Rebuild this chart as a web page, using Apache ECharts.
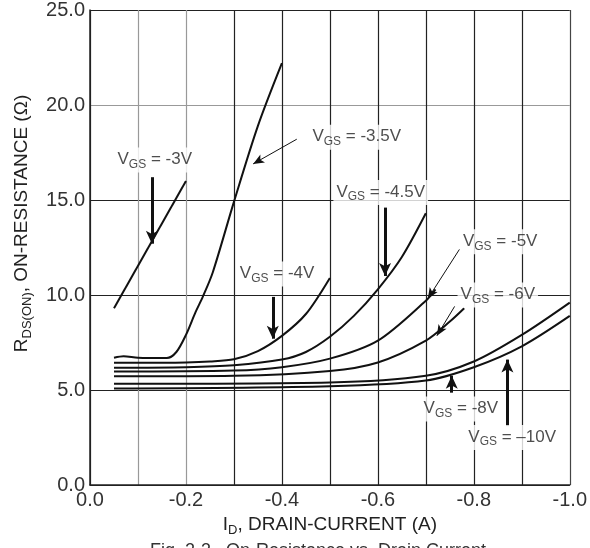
<!DOCTYPE html>
<html>
<head>
<meta charset="utf-8">
<script src="https://cdn.jsdelivr.net/npm/echarts@6/dist/echarts.min.js"></script>
<style>
html, body { margin: 0; padding: 0; background: #fff; }
#chart { width: 590px; height: 548px; }
</style>
</head>
<body>
<div id="chart"></div>
<script>
// drain current (A) and on-resistance (ohm)
var vgs3 = [[-0.05, 9.3], [-0.2, 16.0]];
var vgs35 = [[-0.05, 6.7], [-0.07, 6.78], [-0.1, 6.7], [-0.16, 6.68], [-0.18, 7.0], [-0.2, 7.9],
  [-0.22, 9.1], [-0.235, 9.9], [-0.256, 11.2], [-0.3, 14.9], [-0.35, 18.9], [-0.4, 22.2]];
var vgs4 = [[-0.05, 6.43], [-0.1, 6.43], [-0.2, 6.45], [-0.25, 6.5], [-0.3, 6.62], [-0.35, 7.05],
  [-0.4, 7.85], [-0.45, 9.0], [-0.5, 10.9]];
var vgs45 = [[-0.05, 6.17], [-0.2, 6.2], [-0.3, 6.3], [-0.4, 6.6], [-0.45, 7.0], [-0.5, 7.8],
  [-0.55, 8.9], [-0.6, 10.3], [-0.65, 12.0], [-0.7, 14.3]];
var vgs5 = [[-0.05, 5.97], [-0.3, 6.02], [-0.4, 6.2], [-0.5, 6.65], [-0.6, 7.6], [-0.7, 9.7], [-0.72, 10.3]];
var vgs6 = [[-0.05, 5.72], [-0.3, 5.75], [-0.5, 6.0], [-0.6, 6.45], [-0.7, 7.6], [-0.75, 8.6], [-0.78, 9.3]];
var vgs8 = [[-0.05, 5.33], [-0.5, 5.4], [-0.7, 5.75], [-0.8, 6.5], [-0.9, 7.9], [-1.0, 9.6]];
var vgs10 = [[-0.05, 5.08], [-0.5, 5.2], [-0.7, 5.5], [-0.8, 6.2], [-0.9, 7.3], [-1.0, 8.9]];

var curves = [vgs3, vgs35, vgs4, vgs45, vgs5, vgs6, vgs8, vgs10];

// curve labels: text and where they sit
var labelText = ['-3V', '-3.5V', '-4V', '-4.5V', '-5V', '-6V', '-8V', '\u201310V'];
var labelPos = [[-0.135, 17.1], [-0.556, 18.3], [-0.39, 11.1], [-0.606, 15.4],
  [-0.855, 12.8], [-0.85, 10.0], [-0.773, 4.0], [-0.88, 2.5]];

// arrows: [from, to, thick?]
var arrows = [
  [[-0.129, 16.2], [-0.129, 12.7], true],
  [[-0.431, 18.2], [-0.34, 16.9], false],
  [[-0.381, 9.9], [-0.381, 7.7], true],
  [[-0.615, 14.6], [-0.615, 11.0], true],
  [[-0.77, 12.4], [-0.704, 9.8], false],
  [[-0.76, 9.4], [-0.723, 7.85], false],
  [[-0.754, 4.86], [-0.754, 5.75], true],
  [[-0.87, 3.1], [-0.87, 6.6], true]
];

// split line colours, from -1.0 up to 0.0 and from 0 up to 25
var xColors = ['#444', '#222', '#222', '#222', '#222', '#222', '#222', '#222', '#999', '#999', '#222'];
var yColors = ['#222', '#222', '#222', '#222', '#999', '#222'];

var series = [];
for (var i = 0; i < curves.length; i++) {
  series.push({
    type: 'line',
    data: curves[i],
    smooth: 0.3,
    showSymbol: false,
    lineStyle: { color: '#111', width: 2 },
    z: 3
  });
}

// arrows as markLines on an empty series
var arrowLines = arrows.map(function (a) {
  return [
    { coord: a[0], symbol: 'none' },
    { coord: a[1], symbol: 'arrow', symbolSize: a[2] ? [9, 13] : [7, 11],
      lineStyle: { width: a[2] ? 3 : 1, color: '#111', type: 'solid' } }
  ];
});
series.push({
  type: 'line',
  data: [],
  markLine: {
    silent: true,
    animation: false,
    label: { show: false },
    lineStyle: { color: '#111', type: 'solid' },
    data: arrowLines
  },
  z: 4
});

var labelData = labelPos.map(function (p, i) {
  return { value: p, name: labelText[i] };
});
series.push({
  type: 'scatter',
  data: labelData,
  symbolSize: 0,
  z: 5,
  label: {
    show: true,
    position: 'inside',
    backgroundColor: '#fff',
    padding: [1, 3, 2, 3],
    formatter: function (p) { return '{v|V}{s|GS}{v| = ' + p.name + '}'; },
    rich: {
      v: { fontFamily: 'Liberation Sans', fontSize: 17, color: '#222', lineHeight: 22, verticalAlign: 'middle' },
      s: { fontFamily: 'Liberation Sans', fontSize: 12, color: '#222', lineHeight: 22, verticalAlign: 'bottom', padding: [8, 0, 0, 0] }
    }
  }
});

var chart = echarts.init(document.getElementById('chart'));
chart.setOption({
  animation: false,
  backgroundColor: '#fff',
  grid: { left: 90, right: 20, top: 7, bottom: 63 },
  xAxis: {
    type: 'value',
    min: -1, max: 0, interval: 0.1,
    inverse: true,
    name: '{a|I}{b|D}{a|, DRAIN-CURRENT (A)}',
    nameLocation: 'middle',
    nameGap: 28,
    nameTextStyle: {
      rich: {
        a: { fontFamily: 'Liberation Sans', fontSize: 19, color: '#222', lineHeight: 24, verticalAlign: 'middle' },
        b: { fontFamily: 'Liberation Sans', fontSize: 13, color: '#222', lineHeight: 24, verticalAlign: 'bottom', padding: [9, 0, 0, 0] }
      }
    },
    axisLine: { show: true, lineStyle: { color: '#222', width: 1.5 } },
    axisTick: { show: false },
    axisLabel: {
      margin: 5,
      fontFamily: 'Liberation Sans', fontSize: 20, color: '#333',
      formatter: function (v) {
        var k = Math.round(v * 10);
        if (k % 2 !== 0) return '';
        return k === 0 ? '0.0' : (k / 10).toFixed(1);
      }
    },
    splitLine: { show: true, lineStyle: { color: xColors, width: 1.2 } }
  },
  yAxis: {
    type: 'value',
    min: 0, max: 25, interval: 5,
    name: '{a|R}{b|DS(ON)}{a|, ON-RESISTANCE (\u03A9)}',
    nameLocation: 'middle',
    nameGap: 56,
    nameTextStyle: {
      padding: [0, 0, 0, 48],
      rich: {
        a: { fontFamily: 'Liberation Sans', fontSize: 19, color: '#222', lineHeight: 24, verticalAlign: 'middle' },
        b: { fontFamily: 'Liberation Sans', fontSize: 13, color: '#222', lineHeight: 24, verticalAlign: 'bottom', padding: [9, 0, 0, 0] }
      }
    },
    axisLine: { show: true, lineStyle: { color: '#222', width: 1.5 } },
    axisTick: { show: false },
    axisLabel: {
      margin: 5,
      fontFamily: 'Liberation Sans', fontSize: 20, color: '#333',
      formatter: function (v) { return v.toFixed(1); }
    },
    splitLine: { show: true, lineStyle: { color: yColors, width: 1.2 } }
  },
  graphic: [{
    type: 'text',
    left: 150,
    top: 542,
    style: { text: 'Fig. 2-3.  On-Resistance vs. Drain Current', fontFamily: 'Liberation Sans', fontSize: 18, fill: '#333' }
  }],
  series: series
});
</script>
</body>
</html>
